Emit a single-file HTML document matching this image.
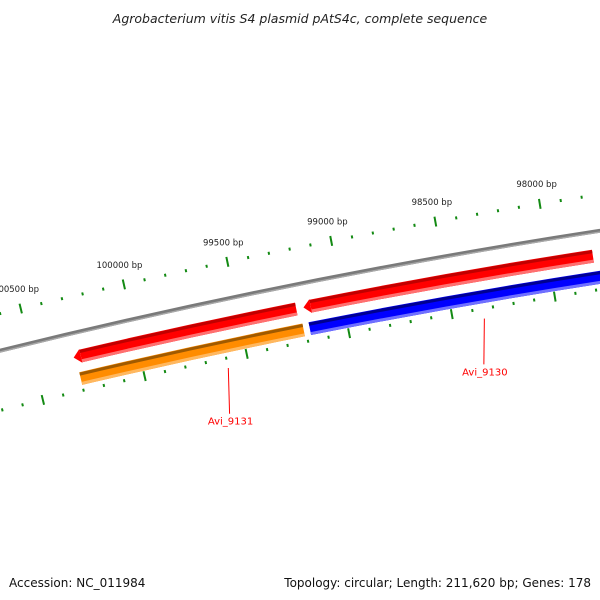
<!DOCTYPE html>
<html><head><meta charset="utf-8"><style>
html,body{margin:0;padding:0;background:#fff}
svg{display:block;font-family:"DejaVu Sans","Liberation Sans",sans-serif}
</style></head><body>
<svg id="c" width="600" height="600" viewBox="0 0 600 600">
<text x="300" y="23" text-anchor="middle" font-size="12.5" font-style="italic" fill="#222">Agrobacterium vitis S4 plasmid pAtS4c, complete sequence</text>
<text x="9" y="587" font-size="12" fill="#111">Accession: NC_011984</text>
<text x="591" y="587" font-size="12" fill="#111" text-anchor="end">Topology: circular; Length: 211,620 bp; Genes: 178</text>
<g id="g"></g>
</svg>
<script>
const geneNames=["Avi_9131_rev","Avi_9131_fwd","Avi_9130_rev","Avi_9130_fwd","next_rev","next_fwd"];
const geneStarts=[100310,100300,99190,99180,97750,97740];
const geneEnds=[99225,99210,97790,97765,96500,96500];
const geneRows=[0,1,0,1,0,1];
const geneColors=["#ff0000","#ff8c00","#ff0000","#0000ff","#ff0000","#4682b4"];
const geneArrow=[true,false,true,false,true,false];
const tickLabels=[100500,100000,99500,99000,98500,98000,97500];
const labelNames=["Avi_9131","Avi_9130"];
const labelBp=[99600,98350];

const NS="http://www.w3.org/2000/svg";
const g=document.getElementById('g');
const cx=1633,cy=6962;
const a0=Math.atan2(285-cy,124-cx), a1=Math.atan2(199-cy,539-cx);
const k=(a1-a0)/(98000-100000);
function ang(bp){return a0+(bp-100000)*k;}
function pt(bp,r){const a=ang(bp);return [cx+r*Math.cos(a),cy+r*Math.sin(a)];}
function mk(tag,attrs,name){const e=document.createElementNS(NS,tag);for(const a in attrs)e.setAttribute(a,attrs[a]);


g.appendChild(e);return e;}
function arc(b1,b2,r){const p=pt(b1,r),q=pt(b2,r);return `M${p[0]},${p[1]} A${r},${r} 0 0 1 ${q[0]},${q[1]}`;}
// backbone
mk('path',{d:arc(101500,96000,6810),stroke:'#7a7a7a','stroke-width':4,fill:'none'},'backbone');
mk('path',{d:arc(101500,96000,6808.7),stroke:'#a8a8a8','stroke-width':1.4,fill:'none'},'backbone-highlight');
// ticks
for(let bp=96000;bp<=101500;bp+=100){
  const major=bp%500===0;
  [[6846,major?5:1.5],[6752,major?5:1.5]].forEach(([r,h])=>{
    const p=pt(bp,r-h),q=pt(bp,r+h);
    mk('line',{x1:p[0],y1:p[1],x2:q[0],y2:q[1],stroke:'#138a13','stroke-width':2},major?'major-tick':'minor-tick');
  });
}
tickLabels.forEach(bp=>{const p=pt(bp,6866);
  const t=mk('text',{x:p[0],y:p[1]+3,'text-anchor':'middle','font-size':8.5,fill:'#222'},'tick-label');t.textContent=bp+' bp';});
// genes
const rowR=[6786,6764];
const darker={"#ff0000":"#c00000","#ff8c00":"#a05a00","#0000ff":"#000090","#4682b4":"#000080"};
const lighter={"#ff0000":"#ff7070","#ff8c00":"#ffb860","#0000ff":"#7070ff","#4682b4":"#000080"};
geneStarts.forEach((s,i)=>{
  const r=rowR[geneRows[i]];
  let st=s;
  if(geneArrow[i]){st=s-35;
    const tip=pt(s,r),u=pt(st,r+7),l=pt(st,r-7);
    mk('polygon',{points:`${tip} ${u} ${l}`,fill:geneColors[i]},'gene-arrowhead');}
  mk('path',{d:arc(st,geneEnds[i],r),stroke:geneColors[i],'stroke-width':13,fill:'none'},'gene-'+geneNames[i]);
  mk('path',{d:arc(st,geneEnds[i],r+4.5),stroke:darker[geneColors[i]],'stroke-width':geneColors[i]==="#4682b4"?0:3,fill:'none'},'gene-shade-top');
  if(geneColors[i]==="#4682b4"){mk('path',{d:arc(st,geneEnds[i],r-3),stroke:'#000080','stroke-width':7,fill:'none'},'gene-shade-bottom');}
  else mk('path',{d:arc(st,geneEnds[i],r-5),stroke:lighter[geneColors[i]],'stroke-width':3,fill:'none'},'gene-shade-bottom');
});
// labels
labelNames.forEach((n,i)=>{
  const p=pt(labelBp[i],6742),q=pt(labelBp[i]+40,6697);
  mk('line',{x1:p[0],y1:p[1],x2:q[0],y2:q[1],stroke:'#ff0000','stroke-width':1},'label-leader');
  const t=mk('text',{x:q[0]+1,y:q[1]+11,'text-anchor':'middle','font-size':10,fill:'#ff0000'},'gene-label');t.textContent=n;
});
</script>
</body></html>
